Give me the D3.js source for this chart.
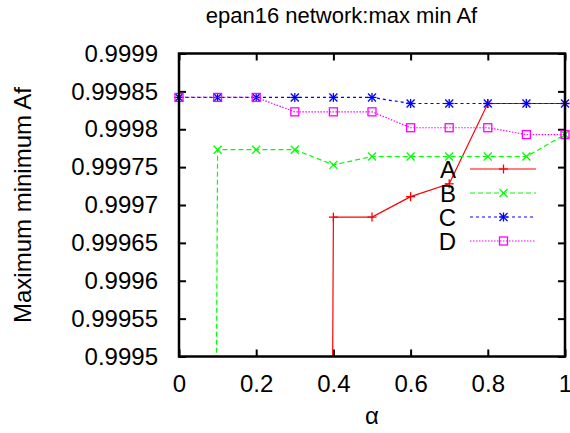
<!DOCTYPE html>
<html>
<head>
<meta charset="utf-8">
<script src="https://cdn.jsdelivr.net/npm/d3@7"></script>
<style>
  html, body { margin: 0; padding: 0; background: #fff; }
  svg { display: block; font-family: "Liberation Sans", Arial, Helvetica, sans-serif; }
</style>
</head>
<body>
<svg id="chart" width="570" height="433"></svg>
<script>
// alpha values sampled along the x axis
const alphas = [0, 0.1, 0.2, 0.3, 0.4, 0.5, 0.6, 0.7, 0.8, 0.9, 1.0];

// maximum minimum Af for each method (values far below the axis range fall off the plot)
const seriesA = [0.99, 0.99, 0.99, 0.99, 0.999684, 0.999684, 0.999711, 0.999728, 0.999834, 0.999834, 0.999834];
const seriesB = [0.99, 0.999773, 0.999773, 0.999773, 0.999753, 0.999764, 0.999764, 0.999764, 0.999764, 0.999764, 0.999793];
const seriesC = [0.999842, 0.999842, 0.999842, 0.999842, 0.999842, 0.999842, 0.999834, 0.999834, 0.999834, 0.999834, 0.999834];
const seriesD = [0.999842, 0.999842, 0.999842, 0.999823, 0.999823, 0.999823, 0.999802, 0.999802, 0.999802, 0.999793, 0.999793];

const seriesNames = ["A", "B", "C", "D"];

const xTickValues = [0, 0.2, 0.4, 0.6, 0.8, 1];
const xTickLabels = ["0", "0.2", "0.4", "0.6", "0.8", "1"];
const yTickValues = [0.9995, 0.99955, 0.9996, 0.99965, 0.9997, 0.99975, 0.9998, 0.99985, 0.9999];
const yTickLabels = ["0.9995", "0.99955", "0.9996", "0.99965", "0.9997", "0.99975", "0.9998", "0.99985", "0.9999"];

const svg = d3.select("#chart");
const plot = { left: 179, right: 565, top: 53.5, bottom: 356.5 };

const x = d3.scaleLinear().domain([0, 1]).range([plot.left, plot.right]);
const y = d3.scaleLinear().domain([0.9995, 0.9999]).range([plot.bottom, plot.top]);

const styles = [
  { color: "#ff0000", dash: null, marker: "plus" },
  { color: "#00ff00", dash: "5,3", marker: "cross" },
  { color: "#0000ff", dash: "3,3", marker: "star" },
  { color: "#ff00ff", dash: "1.5,1.5", marker: "square" }
];
const allSeries = [seriesA, seriesB, seriesC, seriesD];

// clip the connecting lines to the plot frame
svg.append("defs").append("clipPath").attr("id", "plotClip")
  .append("rect")
  .attr("x", plot.left).attr("y", plot.top)
  .attr("width", plot.right - plot.left).attr("height", plot.bottom - plot.top);

// title
svg.append("text")
  .attr("x", 341.5).attr("y", 23)
  .attr("text-anchor", "middle")
  .attr("font-size", 22)
  .text("epan16 network:max min Af");

// y axis label
svg.append("text")
  .attr("transform", `translate(31,${(plot.top + plot.bottom) / 2}) rotate(-90)`)
  .attr("text-anchor", "middle")
  .attr("font-size", 24)
  .text("Maximum minimum Af");

// x axis label
svg.append("text")
  .attr("x", (plot.left + plot.right) / 2).attr("y", 424)
  .attr("text-anchor", "middle")
  .attr("font-size", 24)
  .text("α");

const tickLen = 7;

// axes with inward ticks on all four sides
const axisBottom = d3.axisBottom(x).tickValues(xTickValues)
  .tickFormat((d, i) => xTickLabels[i]).tickSize(-tickLen).tickPadding(18);
const axisTop = d3.axisTop(x).tickValues(xTickValues)
  .tickFormat("").tickSize(-tickLen);
const axisLeft = d3.axisLeft(y).tickValues(yTickValues)
  .tickFormat((d, i) => yTickLabels[i]).tickSize(-tickLen).tickPadding(21);
const axisRight = d3.axisRight(y).tickValues(yTickValues)
  .tickFormat("").tickSize(-tickLen);

function styleAxis(g) {
  g.select(".domain").remove();
  g.selectAll(".tick line").attr("stroke", "#000").attr("stroke-width", 2);
  g.selectAll(".tick text").attr("font-size", 24).attr("fill", "#000")
    .attr("font-family", "Liberation Sans, Arial, Helvetica, sans-serif");
}

svg.append("g").attr("transform", `translate(0,${plot.bottom})`).call(axisBottom).call(styleAxis);
svg.append("g").attr("transform", `translate(0,${plot.top})`).call(axisTop).call(styleAxis);
svg.append("g").attr("transform", `translate(${plot.left},0)`).call(axisLeft).call(styleAxis);
svg.append("g").attr("transform", `translate(${plot.right},0)`).call(axisRight).call(styleAxis);

// marker shapes
function drawMarker(g, cx, cy, kind, color) {
  const s = 4;
  const m = g.append("g").attr("stroke", color).attr("stroke-width", 1.3).attr("fill", "none");
  if (kind === "plus" || kind === "star") {
    m.append("line").attr("x1", cx - s - 0.5).attr("x2", cx + s + 0.5).attr("y1", cy).attr("y2", cy);
    m.append("line").attr("x1", cx).attr("x2", cx).attr("y1", cy - s - 0.5).attr("y2", cy + s + 0.5);
  }
  if (kind === "cross" || kind === "star") {
    m.append("line").attr("x1", cx - s).attr("x2", cx + s).attr("y1", cy - s).attr("y2", cy + s);
    m.append("line").attr("x1", cx - s).attr("x2", cx + s).attr("y1", cy + s).attr("y2", cy - s);
  }
  if (kind === "square") {
    m.append("rect").attr("x", cx - s).attr("y", cy - s).attr("width", 2 * s).attr("height", 2 * s);
  }
}

const line = d3.line().x((d, i) => x(alphas[i])).y(d => y(d));
const inRange = v => v >= 0.9995 && v <= 0.9999;

allSeries.forEach((vals, k) => {
  const st = styles[k];
  const g = svg.append("g");
  g.append("path")
    .datum(vals)
    .attr("d", line)
    .attr("clip-path", "url(#plotClip)")
    .attr("fill", "none")
    .attr("stroke", st.color)
    .attr("stroke-width", 1.2)
    .attr("stroke-dasharray", st.dash);
  vals.forEach((v, i) => {
    if (inRange(v)) drawMarker(g, x(alphas[i]), y(v), st.marker, st.color);
  });
});

// legend
const legendRows = [169, 193, 217, 241];
seriesNames.forEach((name, k) => {
  const st = styles[k];
  const ly = legendRows[k];
  svg.append("text")
    .attr("x", 456).attr("y", ly + 8.5)
    .attr("text-anchor", "end")
    .attr("font-size", 24)
    .text(name);
  svg.append("line")
    .attr("x1", 470).attr("x2", 536).attr("y1", ly).attr("y2", ly)
    .attr("stroke", st.color).attr("stroke-width", 1.2)
    .attr("stroke-dasharray", st.dash);
  drawMarker(svg, 503.5, ly, st.marker, st.color);
});

// plot frame
svg.append("rect")
  .attr("x", plot.left).attr("y", plot.top)
  .attr("width", plot.right - plot.left).attr("height", plot.bottom - plot.top)
  .attr("fill", "none").attr("stroke", "#000").attr("stroke-width", 2.5);
</script>
</body>
</html>
